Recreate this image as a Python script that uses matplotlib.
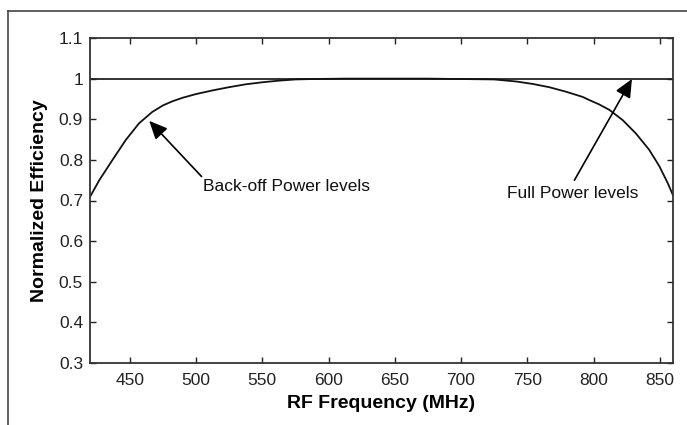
import matplotlib
matplotlib.use("Agg")
import matplotlib.pyplot as plt
from matplotlib.lines import Line2D

plt.rcParams['font.family'] = ['Liberation Sans', 'DejaVu Sans']

# Data
freq_backoff = [420, 427, 437, 447, 457, 467, 475, 482, 490, 500, 512.5, 525, 537.5,
                550, 562.5, 575, 587.5, 600, 612.5, 625, 650, 675, 700, 725,
                741.5, 754, 766.5, 779, 791.8, 797, 804, 812, 822, 832, 842,
                849.6, 856, 860]
eff_backoff = [0.709, 0.750, 0.800, 0.849, 0.890, 0.918, 0.934, 0.944, 0.953, 0.962,
               0.971, 0.979, 0.986, 0.991, 0.995, 0.998, 0.999, 0.9995, 1.0,
               1.0, 1.0, 1.0, 0.999, 0.998, 0.993, 0.987, 0.979, 0.968, 0.955,
               0.947, 0.937, 0.923, 0.898, 0.865, 0.825, 0.785, 0.743, 0.713]
freq_full = [420, 860]
eff_full = [1.0, 1.0]

x_ticks = [450, 500, 550, 600, 650, 700, 750, 800, 850]
y_ticks = [0.3, 0.4, 0.5, 0.6, 0.7, 0.8, 0.9, 1.0, 1.1]
y_ticklabels = ['0.3', '0.4', '0.5', '0.6', '0.7', '0.8', '0.9', '1', '1.1']

fig = plt.figure(figsize=(6.87, 4.25), dpi=100)
ax = fig.add_axes([90 / 687, 1 - 363 / 425, (673 - 90) / 687, (363 - 38) / 425])

ax.plot(freq_full, eff_full, color='#222222', lw=1.3)
ax.plot(freq_backoff, eff_backoff, color='#111111', lw=1.3)

ax.set_xlim(420, 860)
ax.set_ylim(0.3, 1.1)
ax.set_xticks(x_ticks)
ax.set_yticks(y_ticks)
ax.set_yticklabels(y_ticklabels)
ax.tick_params(direction='in', top=True, right=True, length=4.5, width=1,
               labelsize=12.5, colors='#222222')
ax.tick_params(axis='x', pad=7)
ax.tick_params(axis='y', pad=5)
for s in ax.spines.values():
    s.set_linewidth(1.3)
    s.set_color('#333333')

ax.set_xlabel('RF Frequency (MHz)', fontsize=14, fontweight='bold', labelpad=5)
ax.set_ylabel('Normalized Efficiency', fontsize=14, fontweight='bold', labelpad=8)

arrow = dict(arrowstyle='-|>,head_length=0.55,head_width=0.25', color='black',
             lw=1.2, mutation_scale=20, shrinkA=0, shrinkB=0)
ax.annotate('', xy=(464.7, 0.896), xytext=(504.2, 0.759), arrowprops=arrow)
ax.annotate('', xy=(829, 0.999), xytext=(785.6, 0.750), arrowprops=arrow)
ax.text(505, 0.734, 'Back-off Power levels', fontsize=12.5, ha='left', va='center',
        color='#111111')
ax.text(735, 0.718, 'Full Power levels', fontsize=12.5, ha='left', va='center',
        color='#111111')

# outer frame
fig.add_artist(Line2D([8 / 687, 8 / 687], [0, 1 - 11 / 425], transform=fig.transFigure,
                      color='#444444', lw=1.2))
fig.add_artist(Line2D([8 / 687, 1], [1 - 11 / 425, 1 - 11 / 425], transform=fig.transFigure,
                      color='#444444', lw=1.2))

fig.savefig('out.png', dpi=100)
